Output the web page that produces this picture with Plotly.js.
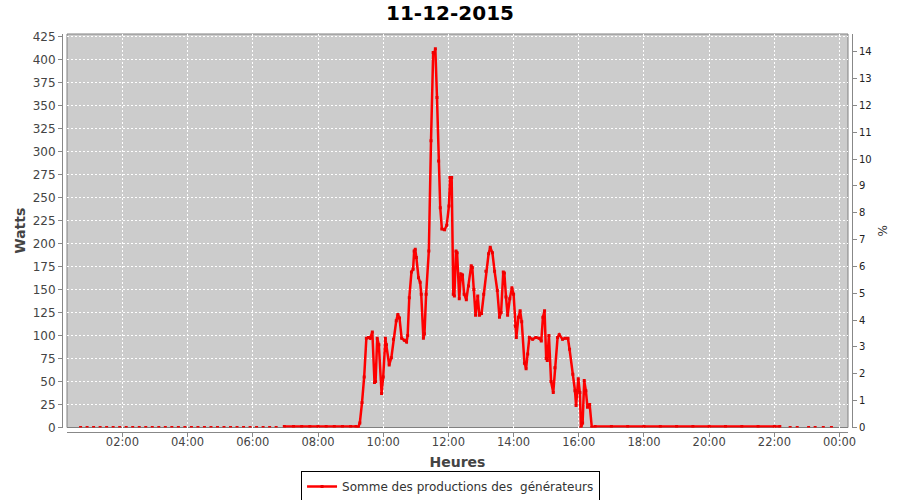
<!DOCTYPE html>
<html>
<head>
<meta charset="utf-8">
<script src="https://cdn.plot.ly/plotly-3.0.1.min.js"></script>
<style>html,body{margin:0;padding:0;background:#fff;}#chart{width:900px;height:500px;}</style>
</head>
<body>
<div id="chart"></div>
<script>
const chartTitle = '11-12-2015';
const day = '2015-12-11';
const seriesName = 'Somme des productions des\u00a0 générateurs';

const times = [
"00:43","00:49","00:55","01:01","01:07","01:13","01:19","01:25","01:31","01:37","01:43","01:49","01:55","02:01","02:07","02:13",
"02:19","02:25","02:31","02:37","02:43","02:49","02:55","03:01","03:07","03:13","03:19","03:25","03:31","03:37","03:43","03:49",
"03:55","04:01","04:07","04:13","04:19","04:25","04:31","04:37","04:43","04:49","04:55","05:01","05:07","05:13","05:19","05:25",
"05:31","05:37","05:43","05:49","05:55","06:01","06:07","06:13","06:19","06:25","06:31","06:37","06:43","06:49",
"06:58","07:15","07:30","07:45","08:00","08:15","08:30","08:45","09:00","09:10","09:14",
"09:17","09:21","09:25","09:29","09:33","09:36","09:40","09:44","09:46","09:49","09:52","09:57","10:00","10:04","10:06","10:11",
"10:15","10:19","10:24","10:27","10:30","10:34","10:39","10:43","10:45","10:48","10:52","10:55","10:57","10:59","11:01","11:05",
"11:08","11:10","11:14","11:16","11:19","11:24","11:28","11:32","11:34","11:36","11:39","11:42","11:45","11:48","11:53","11:57",
"12:01","12:03","12:06","12:09","12:11","12:14","12:16","12:20","12:23","12:26","12:29","12:33","12:37","12:42","12:44","12:47",
"12:50","12:54","12:57","13:01","13:05","13:09","13:14","13:17","13:21","13:25","13:30","13:34","13:37","13:41","13:43","13:46",
"13:49","13:53","13:57","14:00","14:03","14:05","14:09","14:12","14:15","14:20","14:23","14:26","14:29","14:35","14:41","14:47",
"14:51","14:54","14:57","15:00","15:02","15:05","15:09","15:13","15:16","15:21","15:24","15:30","15:35","15:40","15:43","15:49",
"15:53","15:55","15:59","16:02","16:04","16:07","16:10","16:13","16:16","16:20","16:24",
"16:30","17:00","17:30","18:00","18:30","19:00","19:30","20:00","20:30","21:00","21:30","22:00","22:10",
"22:18","22:29","22:36","22:42","22:52","23:03","23:09","23:15","23:22","23:30","23:38","23:45"
];
const watts = [
0,null,0,null,0,null,0,null,0,null,0,null,0,null,0,null,
0,null,0,null,0,null,0,null,0,null,0,null,0,null,0,null,
0,null,0,null,0,null,0,null,0,null,0,null,0,null,0,null,
0,null,0,null,0,null,0,null,0,null,0,null,0,null,
1,1,1,1,1,1,1,1,1,1,0,
5,27,55,97,98,97,104,49,50,97,90,37,55,97,90,68,
76,96,116,123,119,97,95,93,100,141,169,172,192,194,185,163,
158,145,97,102,145,192,312,408,407,412,359,290,239,216,215,220,
241,272,272,145,143,192,190,140,167,166,145,139,154,176,174,150,
122,143,122,124,145,170,189,196,190,170,149,120,125,169,168,142,
122,140,152,145,110,98,120,127,115,70,64,80,98,96,98,97,
94,120,127,75,73,100,50,38,65,98,101,96,97,97,85,58,
40,24,53,38,0,5,51,40,22,25,0,
1,1,1,1,1,1,1,1,1,1,1,1,1,
null,0,null,0,null,0,null,0,null,0,null,0
];

const font = 'DejaVu Sans';
const grid = {showgrid:true, gridcolor:'#ffffff', griddash:'2px,2px', gridwidth:1};

const traces = [
  {
    x: times.map(t => day + ' ' + t),
    y: watts,
    name: seriesName,
    type: 'scatter',
    mode: 'lines+markers',
    connectgaps: false,
    line: {color:'#ff0000', width:2.5},
    marker: {color:'#ee0000', size:3, symbol:'square'},
    showlegend: true
  },
  {x: [], y: [], yaxis:'y2', showlegend:false, hoverinfo:'skip', type:'scatter'}
];

const layout = {
  width: 900, height: 500,
  paper_bgcolor: '#ffffff',
  plot_bgcolor: '#cccccc',
  margin: {l:62, r:48, t:34, b:68, pad:0, autoexpand:false},
  title: {text:'<b>' + chartTitle + '</b>', font:{family:font, size:20, color:'#000'},
          x:0.5, xref:'container', xanchor:'center', y:0.974, yref:'container', yanchor:'middle', automargin:false},
  xaxis: Object.assign({
    type:'date', domain:[0.00633, 0.99494], anchor:'free', position:0, automargin:false,
    range:[day + ' 00:18:02', '2015-12-12 00:15:29'],
    tick0: day + ' 00:00', dtick: 7200000, tickformat:'%H:%M',
    ticks:'outside', ticklen:4, tickcolor:'#888', showline:true, linecolor:'#888', linewidth:1,
    ticklabelstandoff:-5,
    zeroline:false, tickfont:{family:font, size:11.5, color:'#444'},
    title:{text:'<b>Heures</b>', font:{family:font, size:14, color:'#444'}, standoff:9}
  }, grid),
  yaxis: Object.assign({
    domain:[0.0113, 1], anchor:'free', position:0, range:[0, 428], automargin:false,
    tick0:0, dtick:25, ticks:'outside', ticklen:4, tickcolor:'#888',
    showline:true, linecolor:'#888', linewidth:1, zeroline:false,
    tickfont:{family:font, size:12, color:'#444'},
    title:{text:'<b>Watts</b>', font:{family:font, size:14, color:'#444'}, standoff:2}
  }, grid),
  yaxis2: {
    overlaying:'y', side:'right', anchor:'free', position:1, range:[0, 14.66], automargin:false,
    tick0:0, dtick:1, ticks:'outside', ticklen:4, tickcolor:'#888',
    showline:true, linecolor:'#888', linewidth:1, showgrid:false, zeroline:false,
    tickfont:{family:font, size:10, color:'#222'},
    title:{text:'%', font:{family:font, size:12, color:'#333'}, standoff:7}
  },
  shapes: [{type:'rect', xref:'x domain', yref:'y domain', x0:0, x1:1, y0:0, y1:1,
            line:{color:'#808080', width:1}, layer:'below'}],
  legend: {orientation:'h', xref:'container', yref:'container', x:0.5006, xanchor:'center', y:0.027, yanchor:'middle',
           bordercolor:'#000', borderwidth:1, bgcolor:'#fff',
           font:{family:font, size:12, color:'#333'}, itemwidth:30},
  showlegend: true
};

Plotly.newPlot('chart', traces, layout, {displayModeBar:false, staticPlot:true});
</script>
</body>
</html>
